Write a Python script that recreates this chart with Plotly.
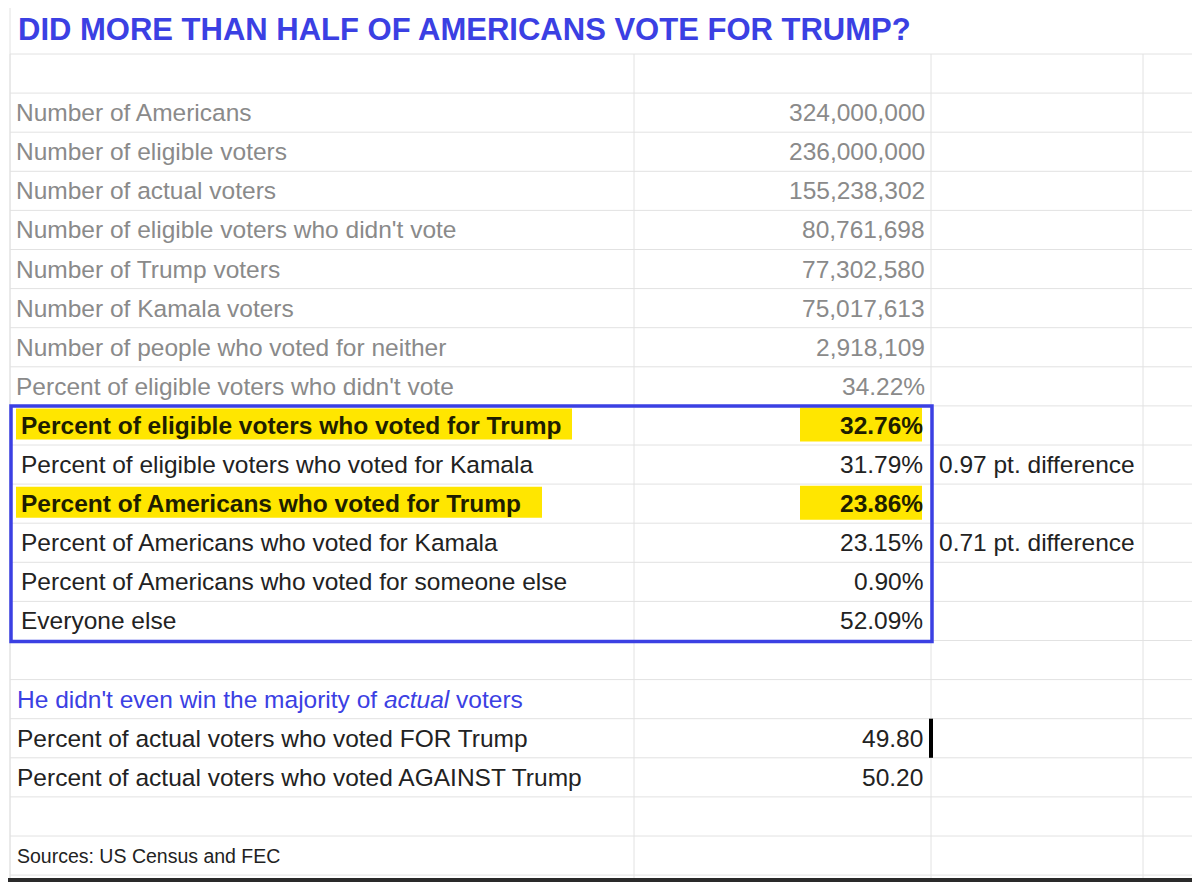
import plotly.graph_objects as go

title = "DID MORE THAN HALF OF AMERICANS VOTE FOR TRUMP?"

gray_labels = [
    "Number of Americans",
    "Number of eligible voters",
    "Number of actual voters",
    "Number of eligible voters who didn't vote",
    "Number of Trump voters",
    "Number of Kamala voters",
    "Number of people who voted for neither",
    "Percent of eligible voters who didn't vote",
]
gray_values = ["324,000,000", "236,000,000", "155,238,302", "80,761,698",
               "77,302,580", "75,017,613", "2,918,109", "34.22%"]

box_labels = [
    "Percent of eligible voters who voted for Trump",
    "Percent of eligible voters who voted for Kamala",
    "Percent of Americans who voted for Trump",
    "Percent of Americans who voted for Kamala",
    "Percent of Americans who voted for someone else",
    "Everyone else",
]
box_values = ["32.76%", "31.79%", "23.86%", "23.15%", "0.90%", "52.09%"]
box_notes = ["", "0.97 pt. difference", "", "0.71 pt. difference", "", ""]
box_bold = [True, False, True, False, False, False]

actual_heading = "He didn't even win the majority of <i>actual</i> voters"
actual_labels = ["Percent of actual voters who voted FOR Trump",
                 "Percent of actual voters who voted AGAINST Trump"]
actual_values = ["49.80", "50.20"]
source = "Sources: US Census and FEC"

W, H = 1200, 882
OFF = 8  # page body margin
ROW0, ROWH = 54, 39.1
COLS = [10, 634, 931, 1143]
BLUE = "#3b40e3"
FONT = "Liberation Sans, Arial, sans-serif"
FS = 24.5

fig = go.Figure()
shapes, ann = [], []


def row_y(i):
    return ROW0 + ROWH * i


# grid
for i in range(22):
    shapes.append(dict(type="line", x0=COLS[0], x1=W + OFF, y0=row_y(i), y1=row_y(i),
                       line=dict(color="#e2e2e2", width=1)))
shapes.append(dict(type="line", x0=COLS[0], x1=W + OFF, y0=2, y1=2, line=dict(color="#e2e2e2", width=1)))
for c in COLS:
    shapes.append(dict(type="line", x0=c, x1=c, y0=row_y(0), y1=H + OFF, line=dict(color="#e2e2e2", width=1)))
shapes.append(dict(type="line", x0=COLS[0], x1=COLS[0], y0=0, y1=H + OFF, line=dict(color="#e2e2e2", width=1)))
# dark window border
shapes.append(dict(type="rect", x0=0, x1=8, y0=0, y1=H + OFF, fillcolor="#2a2a2a", line=dict(width=0)))
shapes.append(dict(type="rect", x0=0, x1=W + OFF, y0=H - 4, y1=H + OFF, fillcolor="#2a2a2a", line=dict(width=0)))


def text(x, y, s, anchor="left", color="#222", size=FS, bold=False):
    ann.append(dict(x=x, y=y, text="<b>%s</b>" % s if bold else s, xanchor=anchor, yanchor="middle",
                    showarrow=False, font=dict(family=FONT, size=size, color=color)))


text(16, 29, title, color=BLUE, size=31, bold=True)

r = 1
for lab, val in zip(gray_labels, gray_values):
    yc = row_y(r) + ROWH / 2
    text(14, yc, lab, color="#8a8a8a")
    text(927, yc, val, anchor="right", color="#8a8a8a")
    r += 1

box_top = row_y(r)
for lab, val, note, b in zip(box_labels, box_values, box_notes, box_bold):
    yc = row_y(r) + ROWH / 2
    if b:
        shapes.append(dict(type="rect", x0=16, x1=572 if "eligible" in lab else 542,
                           y0=yc - 17, y1=yc + 14, fillcolor="#ffe600", line=dict(width=0), layer="below"))
        shapes.append(dict(type="rect", x0=800, x1=922, y0=yc - 18, y1=yc + 16,
                           fillcolor="#ffe600", line=dict(width=0), layer="below"))
    text(19, yc, lab, bold=b, color="#1e1e00" if b else "#222")
    text(925, yc, val, anchor="right", bold=b, color="#1e1e00" if b else "#222")
    if note:
        text(937, yc, note)
    r += 1
shapes.append(dict(type="rect", x0=11, x1=932, y0=box_top, y1=row_y(r) + 1,
                   line=dict(color=BLUE, width=3.5)))

r += 1
text(15, row_y(r) + ROWH / 2, actual_heading, color=BLUE)
r += 1
for i, (lab, val) in enumerate(zip(actual_labels, actual_values)):
    yc = row_y(r) + ROWH / 2
    text(15, yc, lab)
    text(925, yc, val, anchor="right")
    if i == 0:
        shapes.append(dict(type="rect", x0=929, x1=933, y0=row_y(r), y1=row_y(r + 1),
                           fillcolor="black", line=dict(width=0)))
    r += 1
r += 1
text(15, row_y(r) + ROWH / 2, source, size=19.5)

fig.update_layout(
    width=W, height=H, margin=dict(l=0, r=0, t=0, b=0),
    plot_bgcolor="white", paper_bgcolor="white",
    xaxis=dict(range=[OFF, W + OFF], visible=False, fixedrange=True),
    yaxis=dict(range=[H + OFF, OFF], visible=False, fixedrange=True),
    shapes=shapes, annotations=ann, showlegend=False,
)
fig.write_html("out.html")
